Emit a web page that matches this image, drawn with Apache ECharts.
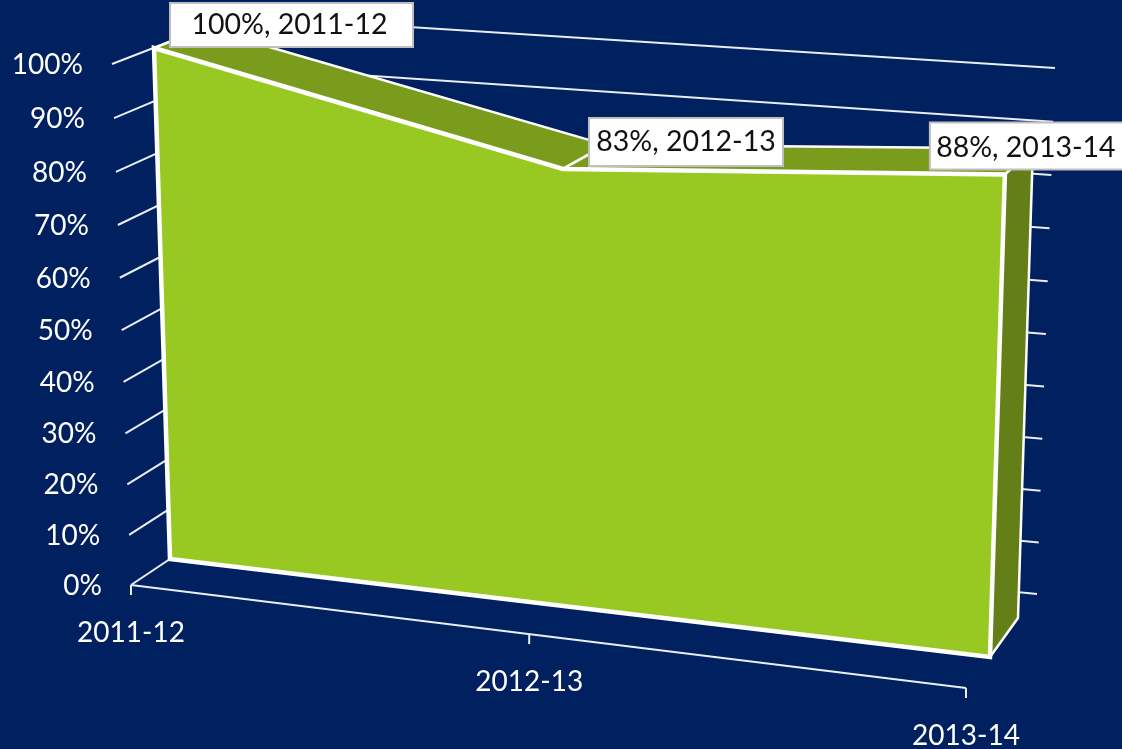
<!DOCTYPE html>
<html>
<head>
<meta charset="utf-8">
<title>3D area chart</title>
<style>
  html, body { margin: 0; height: 100%; background: #002060; }
  #chart { width: 1122px; height: 749px; }
</style>
<script src="https://cdn.jsdelivr.net/npm/echarts@6/dist/echarts.min.js"></script>
</head>
<body>
<div id="chart"></div>
<script>
var categories = ['2011-12', '2012-13', '2013-14'];
var shareValues = [100, 83, 88];
var tickValues = [0, 10, 20, 30, 40, 50, 60, 70, 80, 90, 100];

var FONT = 'Lato';
var TEXT_SIZE = 28;
var LABEL_SIZE = 28.5;

// corners of each plane of the fake 3d box: [0,0] [1,0] [1,1] [0,1]
function planeMap(c) {
  var dx1 = c[1][0] - c[2][0], dx2 = c[3][0] - c[2][0], sx = c[0][0] - c[1][0] + c[2][0] - c[3][0];
  var dy1 = c[1][1] - c[2][1], dy2 = c[3][1] - c[2][1], sy = c[0][1] - c[1][1] + c[2][1] - c[3][1];
  var den = dx1 * dy2 - dx2 * dy1;
  var g = (sx * dy2 - dx2 * sy) / den, h = (dx1 * sy - sx * dy1) / den;
  var a = c[1][0] - c[0][0] + g * c[1][0], b = c[3][0] - c[0][0] + h * c[3][0];
  var d = c[1][1] - c[0][1] + g * c[1][1], e = c[3][1] - c[0][1] + h * c[3][1];
  return function (u, v) {
    var w = g * u + h * v + 1;
    return [(a * u + b * v + c[0][0]) / w, (d * u + e * v + c[0][1]) / w];
  };
}
var floorFront = planeMap([[131, 585], [966, 688], [985, 119], [112, 64]]);
var areaFront = planeMap([[170, 559], [990, 657], [1007, 106], [154, 48]]);
var areaBack = planeMap([[207, 534], [1018, 618], [1035, 83], [204, 28]]);
var backWall = planeMap([[236, 515], [1037, 594], [1055, 68], [236, 16]]);

// cartesian value -> position in the given plane
function project(params, api, plane, i, value) {
  var p = api.coord([i, value]);
  var r = params.coordSys;
  return plane((p[0] - r.x) / r.width, (r.y + r.height - p[1]) / r.height);
}

var LINE = { stroke: '#e9edf4', lineWidth: 2, fill: null };

function renderGridLine(params, api) {
  var v = api.value(0);
  var near = project(params, api, floorFront, 0, v);
  var farL = project(params, api, backWall, 0, v);
  var farR = project(params, api, backWall, categories.length - 1, v);
  return {
    type: 'group',
    children: [
      { type: 'polyline', shape: { points: [near, farL, farR] }, style: LINE },
      {
        type: 'text',
        style: {
          x: near[0] - 29, y: near[1] + 1, text: v + '%', fill: '#fff',
          font: TEXT_SIZE + 'px ' + FONT, align: 'right', verticalAlign: 'middle'
        }
      }
    ]
  };
}

function renderArea(params, api) {
  if (params.dataIndex !== shareValues.length - 1) return null;
  var children = [];
  var last = shareValues.length - 1;
  var front = [], back = [];
  shareValues.forEach(function (v, i) {
    front.push(project(params, api, areaFront, i, v));
    back.push(project(params, api, areaBack, i, v));
  });
  var edge = { stroke: '#fff', lineWidth: 2.5, lineJoin: 'round' };
  // top bands
  for (var i = 0; i < last; i++) {
    children.push({
      type: 'polygon',
      shape: { points: [front[i], front[i + 1], back[i + 1], back[i]] },
      style: Object.assign({ fill: '#7a9c1c' }, edge)
    });
  }
  // right side
  children.push({
    type: 'polygon',
    shape: {
      points: [front[last], back[last],
        project(params, api, areaBack, last, 0), project(params, api, areaFront, last, 0)]
    },
    style: Object.assign({ fill: '#657f18' }, edge)
  });
  // front face
  children.push({
    type: 'polygon',
    shape: {
      points: front.concat([
        project(params, api, areaFront, last, 0),
        project(params, api, areaFront, 0, 0)
      ])
    },
    style: { fill: '#98c922', stroke: '#fff', lineWidth: 4.5, lineJoin: 'miter' }
  });
  return { type: 'group', children: children };
}

function renderXAxis(params, api) {
  var i = api.value(0);
  var p = project(params, api, floorFront, i, 0);
  var children = [
    { type: 'line', shape: { x1: p[0], y1: p[1], x2: p[0], y2: p[1] + 10 }, style: LINE },
    {
      type: 'text',
      style: {
        x: p[0], y: p[1] + 48, text: categories[i], fill: '#fff',
        font: TEXT_SIZE + 'px ' + FONT, align: 'center', verticalAlign: 'middle'
      }
    }
  ];
  if (i === 0) {
    var end = project(params, api, floorFront, categories.length - 1, 0);
    children.push({ type: 'line', shape: { x1: p[0], y1: p[1], x2: end[0], y2: end[1] }, style: LINE });
  }
  return { type: 'group', children: children };
}

// label boxes sit at an offset from their point: [dx, dy, width, height]
var labelBoxes = [[16, -45, 243, 44], [26, -51, 194, 48], [-75, -52, 200, 47]];

function renderLabel(params, api) {
  var i = api.value(0);
  var v = api.value(1);
  var p = project(params, api, areaFront, i, v);
  var b = labelBoxes[i];
  return {
    type: 'group',
    children: [
      {
        type: 'rect',
        shape: { x: p[0] + b[0], y: p[1] + b[1], width: b[2], height: b[3] },
        style: { fill: '#fff', stroke: '#bfbfbf', lineWidth: 2 }
      },
      {
        type: 'text',
        style: {
          x: p[0] + b[0] + (i === 2 ? 96 : b[2] / 2 - (i === 0 ? 2 : 0)), y: p[1] + b[1] + b[3] / 2 + (i === 2 ? 2 : 0),
          text: v + '%, ' + categories[i], fill: '#111',
          font: LABEL_SIZE + 'px ' + FONT, align: 'center', verticalAlign: 'middle'
        }
      }
    ]
  };
}

var option = {
  backgroundColor: '#002060',
  animation: false,
  grid: { left: 0, right: 0, top: 0, bottom: 0 },
  xAxis: { type: 'category', data: categories, boundaryGap: false, show: false },
  yAxis: { type: 'value', min: 0, max: 100, interval: 10, show: false },
  series: [
    { type: 'custom', name: 'grid', z: 1, silent: true, clip: false, renderItem: renderGridLine,
      encode: { y: 0 }, data: tickValues.map(function (v) { return [v]; }) },
    { type: 'custom', name: 'axis', z: 2, silent: true, clip: false, renderItem: renderXAxis,
      encode: { x: 0 }, data: categories.map(function (c, i) { return [i]; }) },
    { type: 'custom', name: 'share', z: 3, silent: true, clip: false, renderItem: renderArea,
      encode: { x: 0, y: 1 }, data: shareValues.map(function (v, i) { return [i, v]; }) },
    { type: 'custom', name: 'labels', z: 4, silent: true, clip: false, renderItem: renderLabel,
      encode: { x: 0, y: 1 }, data: shareValues.map(function (v, i) { return [i, v]; }) }
  ]
};

var myChart = echarts.init(document.getElementById('chart'));
myChart.setOption(option);
</script>
</body>
</html>
